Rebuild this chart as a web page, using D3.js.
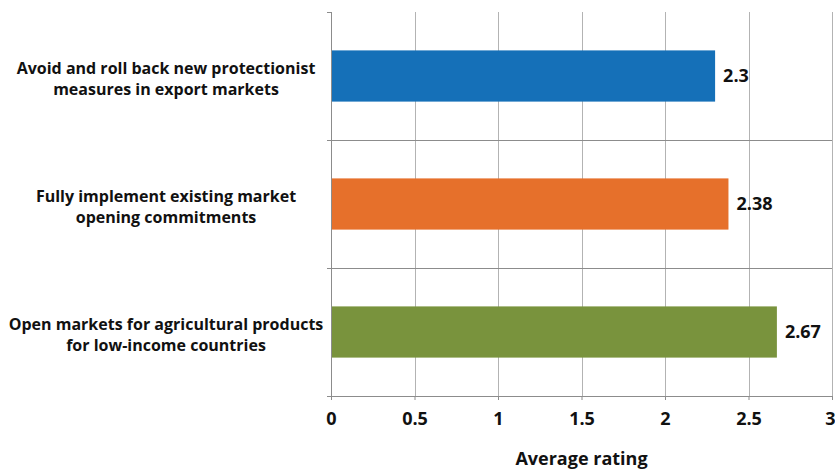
<!DOCTYPE html>
<html>
<head>
<meta charset="utf-8">
<script src="https://cdn.jsdelivr.net/npm/d3@7"></script>
<style>
  body { margin: 0; background: #fff; }
  text { font-family: "Open Sans", sans-serif; font-weight: 700; fill: #111; }
</style>
</head>
<body>
<div id="chart"></div>
<script>
// data
var categories = [
  ["Avoid and roll back new protectionist", "measures in export markets"],
  ["Fully implement existing market", "opening commitments"],
  ["Open markets for agricultural products", "for low-income countries"]
];
var values = [2.3, 2.38, 2.67];
var colors = ["#1570b8", "#e6702b", "#79933d"];
var xTicks = [0, 0.5, 1, 1.5, 2, 2.5, 3];
var xTitle = "Average rating";

function createBarChart(){
  var W = 835, H = 469;
  var margin = {top: 12, right: 3, bottom: 73, left: 331},
  width = W - margin.left - margin.right,
  height = H - margin.top - margin.bottom;

  var x = d3.scaleLinear().domain([0, 3]).range([0, width]);
  var y = d3.scaleBand()
      .domain(d3.range(categories.length))
      .range([0, height])
      .paddingInner(0.6)
      .paddingOuter(0.3);

  var svg = d3.select("#chart").append("svg")
      .attr("width", W)
      .attr("height", H)
    .append("g")
      .attr("transform", "translate(" + margin.left + "," + margin.top + ")");

  // vertical gridlines
  svg.selectAll(".vgrid")
      .data(xTicks.slice(1))
    .enter().append("line")
      .attr("x1", function(d) { return Math.round(x(d)) + 0.5; })
      .attr("x2", function(d) { return Math.round(x(d)) + 0.5; })
      .attr("y1", 0)
      .attr("y2", height)
      .style("stroke", "#b3b3b3");

  // category separators
  var step = y.step();
  var seps = d3.range(1, categories.length);
  svg.selectAll(".hgrid")
      .data(seps)
    .enter().append("line")
      .attr("x1", 0)
      .attr("x2", width)
      .attr("y1", function(d) { return Math.round(d * step) + 0.5; })
      .attr("y2", function(d) { return Math.round(d * step) + 0.5; })
      .style("stroke", "#8c8c8c");

  // bars
  svg.selectAll(".bar")
      .data(values)
    .enter().append("rect")
      .attr("x", 0)
      .attr("y", function(d, i) { return y(i); })
      .attr("width", function(d) { return x(d); })
      .attr("height", y.bandwidth())
      .style("fill", function(d, i) { return colors[i]; });

  // value labels
  svg.selectAll(".val")
      .data(values)
    .enter().append("text")
      .attr("x", function(d) { return x(d) + 8; })
      .attr("y", function(d, i) { return y(i) + y.bandwidth() / 2; })
      .attr("dy", "0.36em")
      .style("font-size", "18px")
      .text(function(d) { return d; });

  // category labels, one text per line
  categories.forEach(function(lines, i) {
    var cy = y(i) + y.bandwidth() / 2;
    lines.forEach(function(line, k) {
      svg.append("text")
          .attr("x", -165)
          .attr("y", cy - 2 + k * 21)
          .attr("text-anchor", "middle")
          .style("font-size", "16px")
          .text(line);
    });
  });

  // left axis line and ticks
  svg.append("line")
      .attr("x1", 0.5).attr("x2", 0.5)
      .attr("y1", 0).attr("y2", height)
      .style("stroke", "#8c8c8c");
  svg.selectAll(".ytick")
      .data(d3.range(0, categories.length + 1))
    .enter().append("line")
      .attr("x1", -4).attr("x2", 0)
      .attr("y1", function(d) { return Math.round(d * step) + 0.5; })
      .attr("y2", function(d) { return Math.round(d * step) + 0.5; })
      .style("stroke", "#8c8c8c");

  // bottom axis
  var xAxis = svg.append("g")
      .attr("transform", "translate(0," + height + ")")
      .call(d3.axisBottom(x).tickValues(xTicks).tickSize(4).tickPadding(12)
        .tickFormat(function(d) { return d; }));
  xAxis.select(".domain").style("stroke", "#8c8c8c");
  xAxis.selectAll(".tick line").style("stroke", "#8c8c8c");
  xAxis.selectAll("text")
      .style("font-family", "'Open Sans', sans-serif")
      .style("font-weight", "700")
      .style("font-size", "18px")
      .style("fill", "#111");
  // keep the last label inside the page
  xAxis.selectAll(".tick text")
      .filter(function(d) { return d === 3; })
      .attr("text-anchor", "end")
      .attr("x", 3);

  svg.append("text")
      .attr("x", width / 2)
      .attr("y", height + 69)
      .attr("text-anchor", "middle")
      .style("font-size", "18px")
      .text(xTitle);
}

createBarChart();
</script>
</body>
</html>
